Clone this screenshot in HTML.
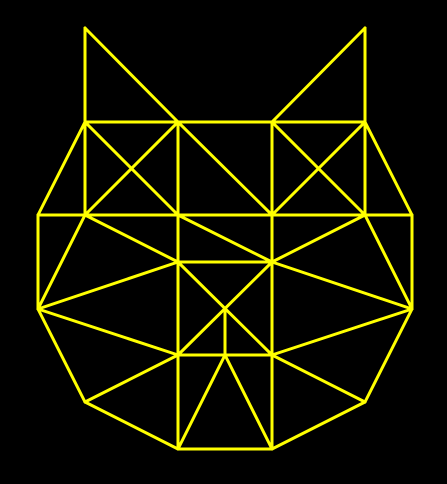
<!DOCTYPE html>
<html><head><meta charset="utf-8"><style>
html,body{margin:0;padding:0;background:#000;width:447px;height:484px;overflow:hidden}
</style></head><body>
<svg id="cat" width="447" height="484" viewBox="0 0 447 484" xmlns="http://www.w3.org/2000/svg">
<rect width="447" height="484" fill="#000"/>
</svg>
<script>
const segments = [
 [85,28,85,122],[85,28,178,122],[365,28,365,122],[365,28,272,122],
 [85,122,365,122],[85,122,38,215],[365,122,412,215],
 [85,122,85,215],[178,122,178,449],[272,122,272,449],[365,122,365,215],
 [38,215,412,215],
 [85,122,178,215],[178,122,85,215],[178,122,272,215],[272,122,365,215],[365,122,272,215],
 [38,215,38,309],[412,215,412,309],
 [85,215,38,309],[85,215,178,262],[178,215,272,262],[365,215,272,262],[365,215,412,309],
 [38,309,178,262],[38,309,178,355],[412,309,272,262],[412,309,272,355],
 [178,262,272,262],[178,262,272,355],[272,262,178,355],[225,309,225,355],
 [178,355,272,355],
 [38,309,85,402],[85,402,178,449],[85,402,178,355],
 [412,309,365,402],[365,402,272,449],[365,402,272,355],
 [225,355,178,449],[225,355,272,449],[178,449,272,449]
];
const svg = document.getElementById('cat');
segments.forEach(s => {
  const l = document.createElementNS('http://www.w3.org/2000/svg','line');
  l.setAttribute('x1', s[0]); l.setAttribute('y1', s[1]);
  l.setAttribute('x2', s[2]); l.setAttribute('y2', s[3]);
  l.setAttribute('stroke', '#ffff00');
  l.setAttribute('stroke-width', '3');
  l.setAttribute('stroke-linecap', 'round');
  
  
  svg.appendChild(l);
});
</script>
</body></html>
